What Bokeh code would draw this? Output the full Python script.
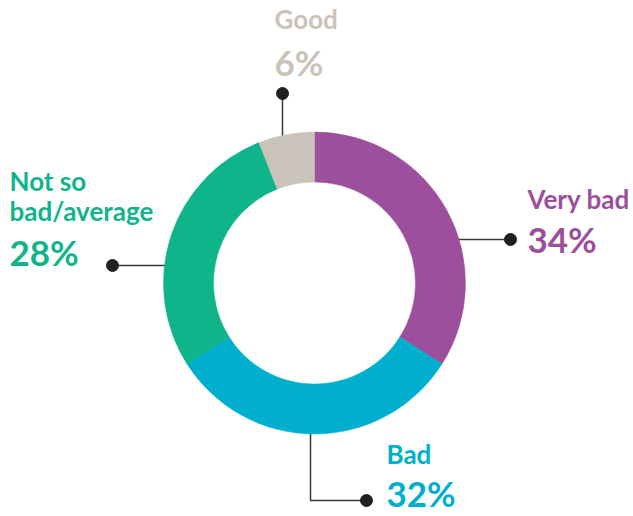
import math
from bokeh.plotting import figure
from bokeh.models import Range1d, ColumnDataSource
from bokeh.core.properties import value
from bokeh.embed import file_html
from bokeh.resources import INLINE

# ---- data ----
categories = ["Very bad", "Bad", "Not so bad/average", "Good"]
label_lines = [["Very bad"], ["Bad"], ["Not so", "bad/average"], ["Good"]]
shares = [34, 32, 28, 6]
colors = ["#9B4F9C", "#00AFCD", "#10B48B", "#CAC3B9"]

# ---- layout ----
W, H = 633, 516
R_OUT, R_IN = 151, 101
NAME_PX, PCT_PX = 26, 35
p = figure(width=W, height=H, output_backend="svg", toolbar_location=None,
           x_range=Range1d(-314, 319), y_range=Range1d(-233.5, 282.5),
           min_border=0)
p.axis.visible = False
p.grid.visible = False
p.outline_line_color = None
p.background_fill_color = "white"
p.border_fill_color = "white"

# wedge angles: start at top, clockwise
total = sum(shares)
starts, ends = [], []
acc = 0.0
for s in shares:
    a0 = math.pi / 2 - acc / total * 2 * math.pi
    acc += s
    a1 = math.pi / 2 - acc / total * 2 * math.pi
    starts.append(a0)
    ends.append(a1)

# leader lines (drawn under the ring)
LINE_C = "#3a3a3a"
leaders = {
    "Very bad": ([140, 196], [43.5, 43.5], (196, 43.5)),
    "Bad": ([-4, -4, 52], [-140, -217.5, -217.5], (52, -217.5)),
    "Not so bad/average": ([-145, -202], [17.5, 17.5], (-202, 17.5)),
    "Good": ([-32, -32], [140, 189.5], (-32, 189.5)),
}
for c in categories:
    xs, ys, dot = leaders[c]
    p.line(xs, ys, line_color=LINE_C, line_width=1.5)

src = ColumnDataSource(dict(start=starts, end=ends, color=colors))
p.annular_wedge(x=0, y=0, inner_radius=R_IN, outer_radius=R_OUT,
                start_angle="start", end_angle="end", direction="clock",
                fill_color="color", line_color="color", line_width=0.5, source=src)

for c in categories:
    xs, ys, dot = leaders[c]
    p.scatter([dot[0]], [dot[1]], size=12, fill_color="#231F20", line_color="#231F20")

# labels: (x, baseline of first name line, baseline of percent)
label_pos = {
    "Very bad": (213, 72.5, 30.5),
    "Bad": (72, -182.5, -223.5),
    "Not so bad/average": (-305, 90.5, 17.5),
    "Good": (-40, 252.5, 207.5),
}
# renderer draws alphabetic baseline lower than requested; compensate
NAME_SHIFT = 0.45 * NAME_PX
PCT_SHIFT = 0.45 * PCT_PX - 2
for c, lines, s, col in zip(categories, label_lines, shares, colors):
    x, y0, yp = label_pos[c]
    for i, t in enumerate(lines):
        p.text([x], [y0 - 30 * i + NAME_SHIFT], text=[t], text_font=value("Lato"),
               text_font_size=f"{NAME_PX}px", text_font_style="bold", text_color=col,
               text_align="left", text_baseline="alphabetic")
    p.text([x], [yp + PCT_SHIFT], text=[f"{s}%"], text_font=value("Lato"),
           text_font_size=f"{PCT_PX}px", text_font_style="bold", text_color=col,
           text_align="left", text_baseline="alphabetic")

open("out.html", "w").write(file_html(p, INLINE))
